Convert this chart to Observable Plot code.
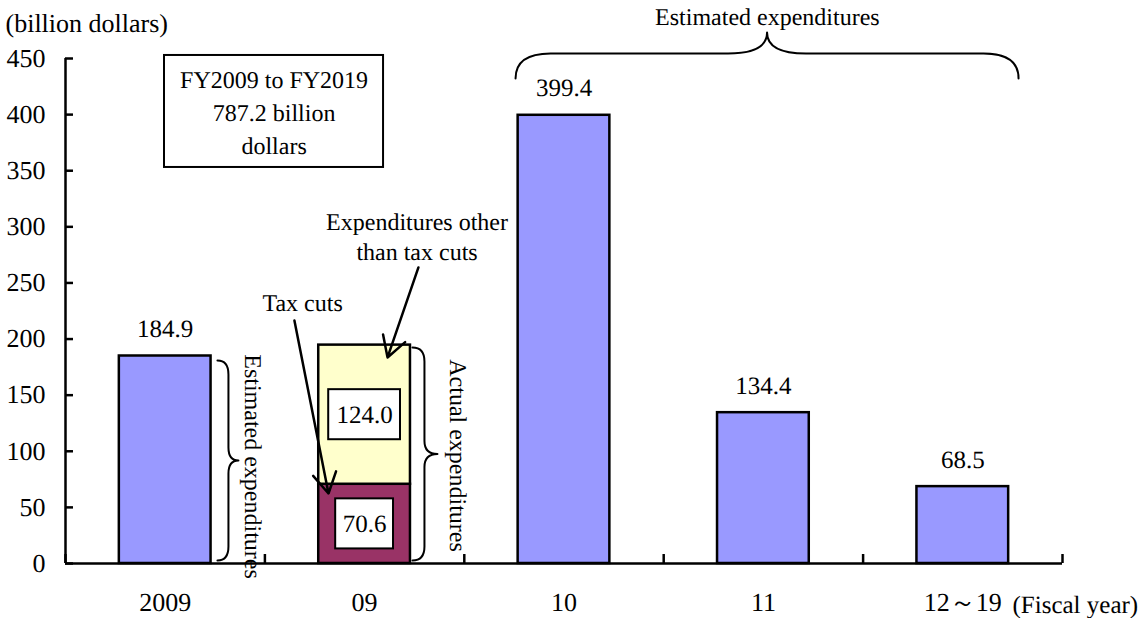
<!DOCTYPE html>
<html><head><meta charset="utf-8">
<script src="https://cdn.jsdelivr.net/npm/d3@7"></script>
<script src="https://cdn.jsdelivr.net/npm/@observablehq/plot@0.6"></script>
<style>body{margin:0;background:#fff} svg text{font-family:"Liberation Serif",serif;text-rendering:geometricPrecision}</style>
</head><body><div id="chart"></div>
<script>
// ---- data ----
const categories = ["2009", "09", "10", "11", "12～19"];
const estimatedCategories = ["2009", "10", "11", "12～19"];
const estimatedValues = [184.9, 399.4, 134.4, 68.5];
const actualCategory = "09";
const actualParts = ["Tax cuts", "Expenditures other than tax cuts"];
const actualValues = [70.6, 124.0];
const yTicks = [0, 50, 100, 150, 200, 250, 300, 350, 400, 450];
const totalLines = ["FY2009 to FY2019", "787.2 billion", "dollars"];

// ---- styles ----
const barColor = "#9999FF";
const partColors = ["#993366", "#FFFFCC"];
const font = "Liberation Serif";

const idx = c => categories.indexOf(c);
const estimated = estimatedCategories.map((c, k) => ({c, v: estimatedValues[k], i: idx(c)}));
const ends = d3.cumsum(actualValues);
const actual = actualParts.map((p, k) => ({
  part: p, v: actualValues[k], i: idx(actualCategory),
  y1: ends[k] - actualValues[k], y2: ends[k], mid: ends[k] - actualValues[k] / 2,
  hw: k === 0 ? 0.145 : 0.18
}));

function brace(cross1, along1, cross2, along2, side) {
  return {draw(ctx, l) {
    const c1 = side * cross1, c2 = side * (cross1 + cross2), h = l / 2;
    ctx.moveTo(0, 0);
    ctx.quadraticCurveTo(c1, 0, c1, -along1);
    ctx.lineTo(c1, -(h - along2));
    ctx.quadraticCurveTo(c1, -h, c2, -h);
    ctx.quadraticCurveTo(c1, -h, c1, -(h + along2));
    ctx.lineTo(c1, -(l - along1));
    ctx.quadraticCurveTo(c1, -l, 0, -l);
  }};
}
const T = {fontFamily: font, fontSize: 24};
const N = {fontFamily: font, fontSize: 25};
const A = {fontFamily: font, fontSize: 26};

const chart = Plot.plot({
  width: 1142, height: 618,
  marginLeft: 65, marginRight: 80, marginTop: 58, marginBottom: 55,
  x: {domain: [0, categories.length]},
  y: {domain: [0, 450]},
  color: {domain: actualParts, range: partColors},
  style: {fontFamily: font, fontSize: "24px", color: "black", background: "white", overflow: "visible"},
  marks: [
    // bars
    Plot.rect(estimated, {x1: d => d.i + 0.27, x2: d => d.i + 0.73, y1: 0, y2: "v", fill: barColor, stroke: "black", strokeWidth: 2.5}),
    Plot.rect(actual, {x1: d => d.i + 0.27, x2: d => d.i + 0.73, y1: "y1", y2: "y2", fill: "part", stroke: "black", strokeWidth: 2.5}),
    Plot.text(estimated, {x: d => d.i + 0.5, y: "v", text: d => d.v.toFixed(1), dy: -27, ...N}),
    // boxed labels inside the stacked bar
    Plot.rect(actual, {x1: d => d.i + 0.5 - d.hw, x2: d => d.i + 0.5 + d.hw, y1: d => d.mid - 22.3, y2: d => d.mid + 22.3, fill: "white", stroke: "black", strokeWidth: 2}),
    Plot.text(actual, {x: d => d.i + 0.5, y: "mid", text: d => d.v.toFixed(1), ...N}),
    // axes
    Plot.ruleY([0], {x1: 0, x2: categories.length, stroke: "black", strokeWidth: 2.5}),
    Plot.ruleX([0], {y1: 0, y2: 450, stroke: "black", strokeWidth: 2.5}),
    Plot.ruleY(yTicks, {x1: 0, x2: 0.04, stroke: "black", strokeWidth: 2.5}),
    Plot.ruleX(d3.range(categories.length + 1), {y1: 0, y2: 8, stroke: "black", strokeWidth: 2.5}),
    Plot.axisY({ticks: yTicks, tickSize: 0, tickPadding: 20, ...A}),
    Plot.axisX({ticks: categories.map((c, k) => k + 0.5), tickFormat: d => categories[Math.floor(d)], tickSize: 0, tickPadding: 29, ...A}),
    Plot.text(["(billion dollars)"], {frameAnchor: "top-left", dx: -60, dy: -35, textAnchor: "start", lineAnchor: "middle", ...A}),
    Plot.text(["(Fiscal year)"], {frameAnchor: "bottom-right", dx: -50, dy: 41, textAnchor: "start", lineAnchor: "middle", ...N}),
    // total box
    Plot.rect([{x1: 0.4965, x2: 1.595, y1: 352.9, y2: 452.7}], {x1: "x1", x2: "x2", y1: "y1", y2: "y2", fill: "white", stroke: "black", strokeWidth: 2}),
    Plot.text([totalLines.join("\n")], {x: 1.046, y: 403.5, lineHeight: 1.375, ...T}),
    // annotations: top brace
    Plot.vector([{x: 2.257, y: 432.2}], {x: "x", y: "y", length: 503, rotate: 90, anchor: "start", shape: brace(25, 35, 21, 39, -1), stroke: "black", strokeWidth: 2, fill: "none"}),
    Plot.text(["Estimated expenditures"], {x: 3.52, y: 486.5, ...T}),
    // side braces
    Plot.vector([{x: 0.762, y: 2.7}], {x: "x", y: "y", length: 200, rotate: 0, anchor: "start", shape: brace(11, 14, 10, 13, 1), stroke: "black", strokeWidth: 2, fill: "none"}),
    Plot.text(["Estimated expenditures"], {x: 0.938, y: 86.4, rotate: 90, ...T}),
    Plot.vector([{x: 1.740, y: 2.7}], {x: "x", y: "y", length: 213, rotate: 0, anchor: "start", shape: brace(12, 14, 13, 13, 1), stroke: "black", strokeWidth: 2, fill: "none"}),
    Plot.text(["Actual expenditures"], {x: 1.966, y: 96.2, rotate: 90, ...T}),
    // arrows
    Plot.text(["Expenditures other\nthan tax cuts"], {x: 1.763, y: 292.3, lineHeight: 1.25, ...T}),
    Plot.arrow([{x1: 1.770, y1: 263.8, x2: 1.615, y2: 183.6}], {x1: "x1", y1: "y1", x2: "x2", y2: "y2", stroke: "black", strokeWidth: 2.5, headLength: 14}),
    Plot.text(["Tax cuts"], {x: 1.189, y: 231.7, ...T}),
    Plot.arrow([{x1: 1.148, y1: 216.5, x2: 1.319, y2: 62.4}], {x1: "x1", y1: "y1", x2: "x2", y2: "y2", stroke: "black", strokeWidth: 2.5, headLength: 14})
  ]
});
document.getElementById("chart").append(chart);
</script>
</body></html>
